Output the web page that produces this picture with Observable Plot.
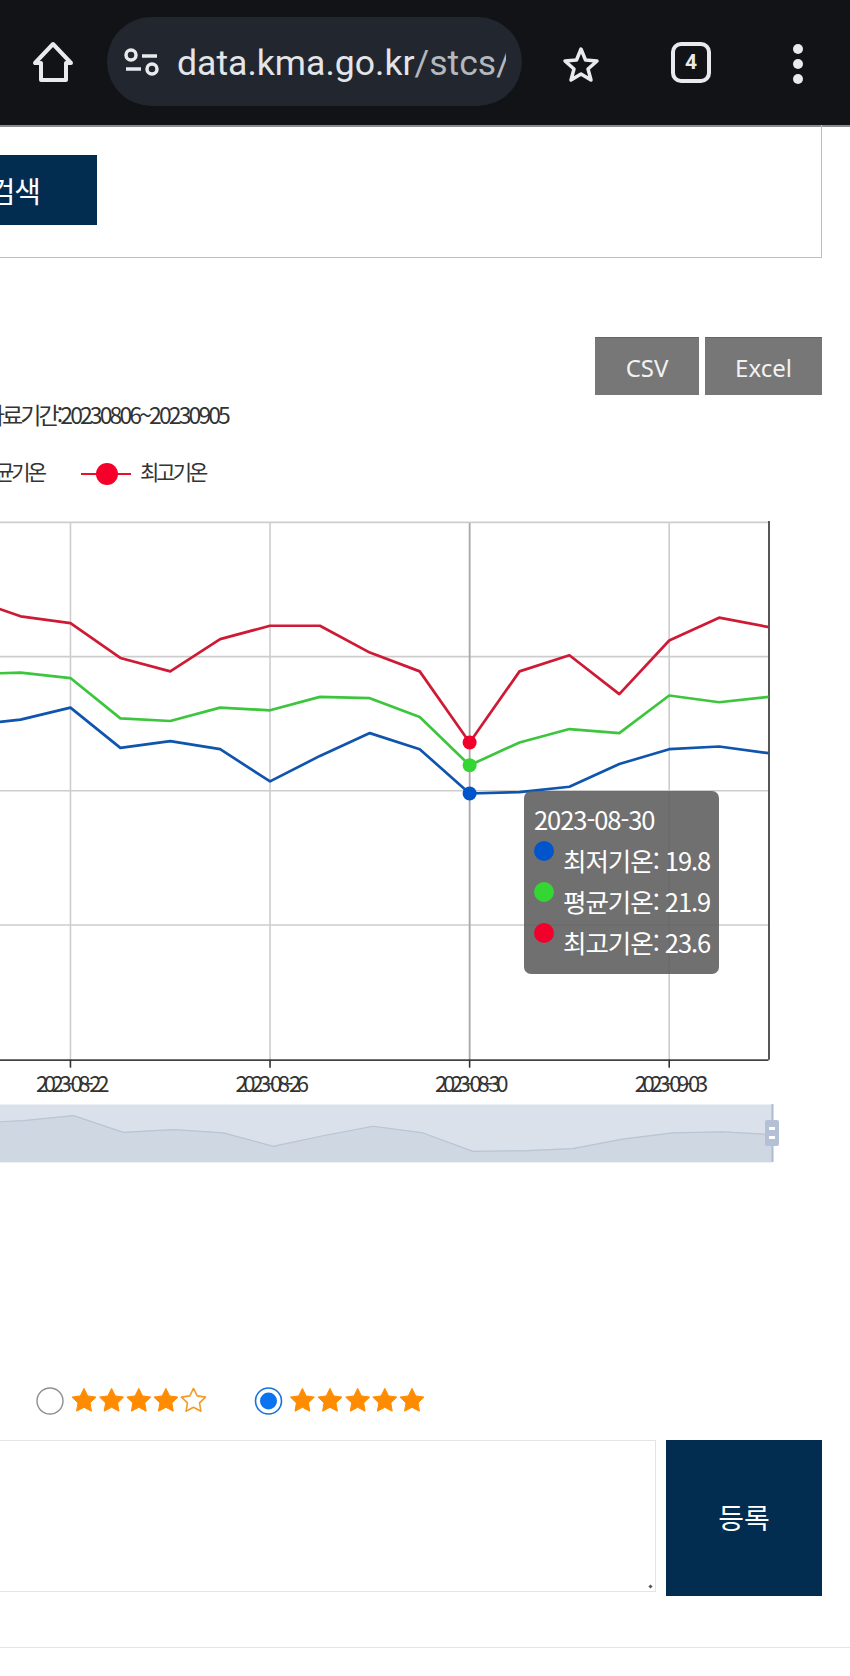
<!DOCTYPE html>
<html lang="ko">
<head>
<meta charset="utf-8">
<title>기온</title>
<script src="https://cdn.jsdelivr.net/npm/d3@7"></script>
<script src="https://cdn.jsdelivr.net/npm/@observablehq/plot@0.6"></script>
<style>
  html, body { margin: 0; padding: 0; background: #fff; }
  body { width: 850px; height: 1676px; overflow: hidden; position: relative; font-family: "Noto Sans CJK KR", "Noto Sans", sans-serif; }
  .a { position: absolute; white-space: nowrap; }
  .navy { background: #022c50; color: #fff; }
  .btn { background: #777; color: #f2f2f2; font-size: 24px; display: flex; align-items: center; justify-content: center; box-shadow: inset 0 1px 0 #666; padding-top: 2px; box-sizing: border-box; font-family: "Noto Sans", sans-serif; }
  .squeeze { color: #333; }
  #chart svg, #nav svg { background: transparent; display: block; overflow: visible; }
  #chart [aria-label="x-axis tick label"] text { letter-spacing: -4.4px; }
  #tip { background: rgba(92,92,92,.88); border-radius: 7px; color: #fff; }
  .tipdot { position: absolute; width: 20px; height: 20px; border-radius: 50%; }
  .tiprow { position: absolute; font-size: 25.5px; line-height: 30px; letter-spacing: -1.05px; }
</style>
</head>
<body>
<!-- browser bar -->
<div class="a" style="left:0;top:0;width:850px;height:125px;background:#111317;border-bottom:2px solid #8a8d90;box-sizing:content-box"></div>
<div class="a" style="left:107px;top:17px;width:415px;height:89px;border-radius:45px;background:#22262e"></div>
<svg class="a" style="left:0;top:0" width="850" height="125" fill="none" stroke="#e8eaed" stroke-width="4">
  <path d="M53 44 L35 63 H41 V80 H66 V63 H71 Z" stroke-linejoin="round"/>
  <circle cx="131" cy="55" r="5" stroke-width="3.5"/><path d="M142 56 H157 M126 69 H141" stroke-width="3.5"/><circle cx="152" cy="69" r="5" stroke-width="3.5"/>
  <path d="M581 49 L585.5 60 L597 61 L588 69 L591 80 L581 74 L571 80 L574 69 L565 61 L576.5 60 Z" stroke-width="3.5" stroke-linejoin="round"/>
  <rect x="673" y="44" width="36" height="37" rx="8"/>
  <g fill="#e8eaed" stroke="none"><circle cx="798" cy="49" r="5"/><circle cx="798" cy="64" r="5"/><circle cx="798" cy="79" r="5"/></g>
</svg>
<div class="a" style="left:672px;top:44px;width:38px;height:37px;line-height:37px;text-align:center;color:#e8eaed;font:bold 21px/37px Roboto">4</div>
<div class="a" style="left:177px;top:39px;width:329px;height:48px;overflow:hidden;font:35.6px/48px Roboto;color:#e3e5e8">data.kma.go.kr<span style="color:#b4b8bd">/stcs/</span></div>

<!-- search panel -->
<div class="a" style="left:-5px;top:125px;width:826px;height:132px;border-right:1px solid #bdbdbd;border-bottom:1px solid #bdbdbd"></div>
<div class="a navy" style="left:0;top:155px;width:97px;height:70px"></div>
<div class="a" style="right:810px;top:169px;font-size:29px;line-height:42px;color:#fff;letter-spacing:-1px">검색</div>

<!-- buttons -->
<div class="a btn" style="left:595px;top:337px;width:104px;height:58px">CSV</div>
<div class="a btn" style="left:705px;top:337px;width:117px;height:58px">Excel</div>

<!-- meta text and legend -->
<div class="a squeeze" style="right:622px;top:396px;font-size:23px;line-height:36px;letter-spacing:-2.9px">자료기간:20230806~20230905</div>
<div class="a squeeze" style="right:806px;top:456px;font-size:21px;line-height:30px;letter-spacing:-3px">평균기온</div>
<div class="a" style="left:81px;top:473px;width:50px;height:2px;background:#e8112d"></div>
<div class="a" style="left:96px;top:463px;width:22px;height:22px;border-radius:50%;background:#f5002a"></div>
<div class="a squeeze" style="left:140px;top:456px;font-size:21px;line-height:30px;letter-spacing:-3px">최고기온</div>

<!-- chart -->
<div id="chart" class="a" style="left:0;top:500px"></div>
<div id="nav" class="a" style="left:-3px;top:1100px"></div>
<div class="a" style="left:765px;top:1120px;width:14px;height:26px;background:#b3c0d6;border-radius:2px"></div>
<div class="a" style="left:769px;top:1127px;width:6px;height:3px;background:#fff"></div>
<div class="a" style="left:769px;top:1136px;width:6px;height:3px;background:#fff"></div>

<!-- tooltip -->
<div id="tip" class="a" style="left:524px;top:791px;width:195px;height:183px"></div>

<!-- rating -->
<svg class="a" style="left:0;top:1380px" width="450" height="42" id="stars"></svg>

<!-- comment -->
<div class="a" style="left:-5px;top:1440px;width:659px;height:150px;border:1px solid #e4e4e4"></div>
<div class="a" style="left:649px;top:1585px;width:3px;height:3px;background:#555;transform:rotate(45deg)"></div>
<div class="a navy" style="left:666px;top:1440px;width:156px;height:156px;display:flex;align-items:center;justify-content:center;font-size:28px;padding-bottom:3px;box-sizing:border-box;letter-spacing:0">등록</div>
<div class="a" style="left:0;top:1647px;width:850px;height:1px;background:#e6e6e6"></div>

<script>
// daily temperature series
const dates = ["2023-08-20","2023-08-21","2023-08-22","2023-08-23","2023-08-24","2023-08-25","2023-08-26","2023-08-27","2023-08-28","2023-08-29","2023-08-30","2023-08-31","2023-09-01","2023-09-02","2023-09-03","2023-09-04","2023-09-05"];
const lows  = [24.9,25.3,26.2,23.2,23.7,23.1,20.7,22.6,24.3,23.1,19.8,19.9,20.3,22.0,23.1,23.3,22.8];
const means = [28.7,28.8,28.4,25.4,25.2,26.2,26.0,27.0,26.9,25.5,21.9,23.6,24.6,24.3,27.1,26.6,27.0];
const highs = [34.3,33.0,32.5,29.9,28.9,31.3,32.3,32.3,30.3,28.9,23.6,28.9,30.1,27.2,31.2,32.9,32.2];
const seriesNames = ["최저기온","평균기온","최고기온"];
const lineColors = ["#0f55ad","#3dc63d","#cf1a35"];
const dotColors = ["#0055cc","#33d633","#f0002a"];
const tickDates = ["2023-08-22","2023-08-26","2023-08-30","2023-09-03"];
const yGrid = [10,20,30,40];
const hoverDate = "2023-08-30";

const t = s => new Date(s);
const fmt = d3.utcFormat("%Y-%m-%d");
const seriesValues = [lows, means, highs];
const rows = dates.map((d,i)=>({date:t(d),low:lows[i],mean:means[i],high:highs[i]}));
const hoverIdx = dates.indexOf(hoverDate);

const chart = Plot.plot({
  width: 850, height: 600,
  marginLeft: 0, marginRight: 81.5, marginTop: 22.9, marginBottom: 40.3,
  style: {fontFamily: '"Noto Sans CJK KR","Noto Sans",sans-serif', background:"transparent"},
  x: {type:"utc", domain:[new Date("2023-08-20T14:21:00Z"), t("2023-09-05")], axis:null},
  y: {domain:[0,40], axis:null},
  marks: [
    Plot.ruleY(yGrid,{stroke:"#cdcdcd",strokeWidth:1.6,dy:-1}),
    Plot.ruleX(tickDates.map(t),{stroke:"#cdcdcd",strokeWidth:1.6}),
    Plot.ruleX([t(hoverDate)],{stroke:"#a8a8a8",strokeWidth:1.6}),
    Plot.ruleY([0],{stroke:"#444",strokeWidth:1.8}),
    Plot.ruleX([t("2023-09-05")],{y1:0,y2:40.15,stroke:"#444",strokeWidth:1.8}),
    ...seriesValues.map((vals,k)=>Plot.line(rows,{x:"date",y:(d,i)=>vals[i],stroke:lineColors[k],strokeWidth:2.7,curve:"linear",clip:true,dy:-1})),
    ...seriesValues.map((vals,k)=>Plot.dot([rows[hoverIdx]],{x:"date",y:()=>vals[hoverIdx],r:7,fill:dotColors[k],dy:-1})),
    Plot.axisX({ticks:tickDates.map(t),tickFormat:fmt,tickSize:8,tickPadding:8,fontSize:22,stroke:"#333",color:"#333",strokeWidth:1.6,anchor:"bottom",label:null})
  ]
});
document.getElementById("chart").appendChild(chart);

// navigator strip under the chart
const navMin = 17.8, navMax = 28.2;
const nav = Plot.plot({
  width: 853, height: 70,
  marginLeft: 0, marginRight: 78, marginTop: 4, marginBottom: 8,
  style: {background:"transparent"},
  x: {type:"utc", domain:[new Date("2023-08-20T11:26:00Z"), t("2023-09-05")], axis:null},
  y: {domain:[navMin,navMax], axis:null},
  marks: [
    Plot.frame({fill:"#dae1eb",stroke:"none"}),
    Plot.areaY(rows,{x:"date",y1:()=>navMin,y2:"low",fill:"#cfd8e2",clip:true}),
    Plot.line(rows,{x:"date",y:"low",stroke:"#b9c5d3",strokeWidth:1.2,clip:true}),
    Plot.ruleX([t("2023-09-05")],{stroke:"#aebbd0",strokeWidth:2})
  ]
});
document.getElementById("nav").appendChild(nav);

// tooltip text, from the arrays
const tip = document.getElementById("tip");
const el = (cls,css,txt)=>{const e=document.createElement("div");e.className=cls;e.style.cssText=css;if(txt)e.textContent=txt;tip.appendChild(e);};
el("tiprow","left:10px;top:13px;",hoverDate);
const rowTops=[54,95,136], dotTops=[50,91,132];
seriesNames.forEach((n,k)=>{
  el("tipdot",`left:10px;top:${dotTops[k]}px;background:${dotColors[k]};`);
  el("tiprow",`left:39px;top:${rowTops[k]}px;white-space:nowrap;`,`${n}: ${seriesValues[k][hoverIdx].toFixed(1)}`);
});

// rating widgets
const ns="http://www.w3.org/2000/svg", st=document.getElementById("stars");
const starPath=(cx,cy,R)=>{let p="";for(let i=0;i<10;i++){const r=i%2?R*.5:R,a=-Math.PI/2+i*Math.PI/5;p+=(i?"L":"M")+(cx+r*Math.cos(a)).toFixed(1)+" "+(cy+r*Math.sin(a)).toFixed(1);}return p+"Z";};
const add=(tag,attrs)=>{const e=document.createElementNS(ns,tag);for(const k in attrs)e.setAttribute(k,attrs[k]);st.appendChild(e);};
[[84,1],[111.6,1],[138.8,1],[165.9,1],[193.5,0],[302.4,1],[330,1],[357.7,1],[384.8,1],[412,1]].forEach(([x,f])=>{
  add("path",{d:starPath(x,21,12.6),fill:f?"#ff8c00":"#fff",stroke:f?"#ff8c00":"#f39a2a","stroke-width":f?1:1.6,"stroke-linejoin":"round"});
});
add("circle",{cx:50,cy:21,r:13,fill:"#fff",stroke:"#8f8f8f","stroke-width":1.4});
add("circle",{cx:268.5,cy:21,r:13,fill:"#fff",stroke:"#1a73d9","stroke-width":1.6});
add("circle",{cx:268.5,cy:21,r:8.5,fill:"#0a74f0"});
</script>
</body>
</html>
